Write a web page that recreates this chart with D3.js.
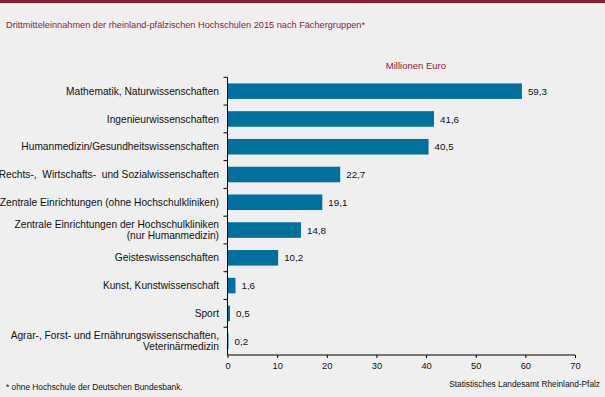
<!DOCTYPE html>
<html>
<head>
<meta charset="utf-8">
<script src="https://cdn.jsdelivr.net/npm/d3@7"></script>
<style>
  body { margin: 0; background: #eeefee; }
  svg { display: block; font-family: "Liberation Sans", Arial, sans-serif; }
</style>
</head>
<body>
<div id="chart"></div>
<script>
// Drittmitteleinnahmen nach Faechergruppen, Mio. Euro
var categories = [
  "Mathematik, Naturwissenschaften",
  "Ingenieurwissenschaften",
  "Humanmedizin/Gesundheitswissenschaften",
  "Rechts-,  Wirtschafts-  und Sozialwissenschaften",
  "Zentrale Einrichtungen (ohne Hochschulkliniken)",
  "Zentrale Einrichtungen der Hochschulkliniken|(nur Humanmedizin)",
  "Geisteswissenschaften",
  "Kunst, Kunstwissenschaft",
  "Sport",
  "Agrar-, Forst- und Ernährungswissenschaften,|Veterinärmedizin"
];
var values = [59.3, 41.6, 40.5, 22.7, 19.1, 14.8, 10.2, 1.6, 0.5, 0.2];
var xTicks = [0, 10, 20, 30, 40, 50, 60, 70];

var W = 605, H = 397;
var red = "#8b1c3a", blue = "#00709f";

var svg = d3.select("#chart").append("svg")
  .attr("width", W).attr("height", H);

svg.append("rect").attr("width", W).attr("height", H).attr("fill", "#eeefee");
svg.append("rect").attr("width", W).attr("height", 3).attr("fill", red);

svg.append("text")
  .attr("x", 6).attr("y", 28)
  .attr("font-size", 9.2).attr("fill", red)
  .text("Drittmitteleinnahmen der rheinland-pfälzischen Hochschulen 2015 nach Fächergruppen*");

var x = d3.scaleLinear().domain([0, 70]).range([227.5, 575]);
var y = d3.scaleBand().domain(categories).range([77.3, 355])
  .paddingInner(0.44).paddingOuter(0.22);

var de = d3.formatLocale({decimal: ",", thousands: ".", grouping: [3], currency: ["", " €"]});
var fmt = de.format(".1f");

svg.append("text")
  .attr("x", 446).attr("y", 69)
  .attr("text-anchor", "end")
  .attr("font-size", 9.5).attr("fill", red)
  .text("Millionen Euro");

// bars
svg.selectAll("rect.bar")
  .data(values)
  .enter().append("rect")
  .attr("class", "bar")
  .attr("x", x(0))
  .attr("y", function(d, i){ return y(categories[i]); })
  .attr("width", function(d){ return x(d) - x(0); })
  .attr("height", y.bandwidth())
  .attr("fill", blue);

// value labels
svg.selectAll("text.val")
  .data(values)
  .enter().append("text")
  .attr("class", "val")
  .attr("x", function(d){ return x(d) + 6; })
  .attr("y", function(d, i){ return y(categories[i]) + y.bandwidth()/2 + 3.6; })
  .attr("font-size", 9.8).attr("fill", "#111")
  .text(function(d){ return fmt(d); });

// category labels (| = line break)
var lab = svg.selectAll("text.cat")
  .data(categories)
  .enter().append("text")
  .attr("class", "cat")
  .attr("text-anchor", "end")
  .attr("font-size", 10.2).attr("fill", "#111")
  .attr("xml:space", "preserve")
  .attr("y", function(d){
    var n = d.split("|").length;
    return y(d) + y.bandwidth()/2 + 3.6 - (n - 1) * 5.5;
  });
lab.each(function(d){
  var parts = d.split("|");
  var t = d3.select(this);
  parts.forEach(function(p, k){
    t.append("tspan").attr("x", 219).attr("dy", k === 0 ? 0 : 11).text(p);
  });
});

// y axis line with ticks at band boundaries
var step = y.step();
var top0 = y(categories[0]) - step * y.paddingInner() / 2;
svg.append("line")
  .attr("x1", x(0)).attr("x2", x(0))
  .attr("y1", top0).attr("y2", 355)
  .attr("stroke", "#000");
d3.range(categories.length).forEach(function(i){
  var yy = top0 + i * step;
  svg.append("line")
    .attr("x1", x(0) - 4).attr("x2", x(0))
    .attr("y1", yy).attr("y2", yy)
    .attr("stroke", "#000");
});

// x axis
var xAxis = d3.axisBottom(x).tickValues(xTicks).tickSize(3).tickPadding(4)
  .tickFormat(function(d){ return d; });
var gx = svg.append("g").attr("transform", "translate(0,355)").call(xAxis);
gx.select(".domain").attr("stroke", "#000").attr("d", "M" + x(0) + ",0H" + x(70));
gx.selectAll(".tick line").attr("stroke", "#000");
gx.selectAll(".tick text").attr("font-size", 9.3).attr("fill", "#111")
  .attr("font-family", "Liberation Sans, Arial, sans-serif");

svg.append("text")
  .attr("x", 6).attr("y", 390)
  .attr("font-size", 8.3).attr("fill", "#111")
  .text("* ohne Hochschule der Deutschen Bundesbank.");

svg.append("text")
  .attr("x", 600).attr("y", 387)
  .attr("text-anchor", "end")
  .attr("font-size", 8.3).attr("fill", "#111")
  .text("Statistisches Landesamt Rheinland-Pfalz");
</script>
</body>
</html>
